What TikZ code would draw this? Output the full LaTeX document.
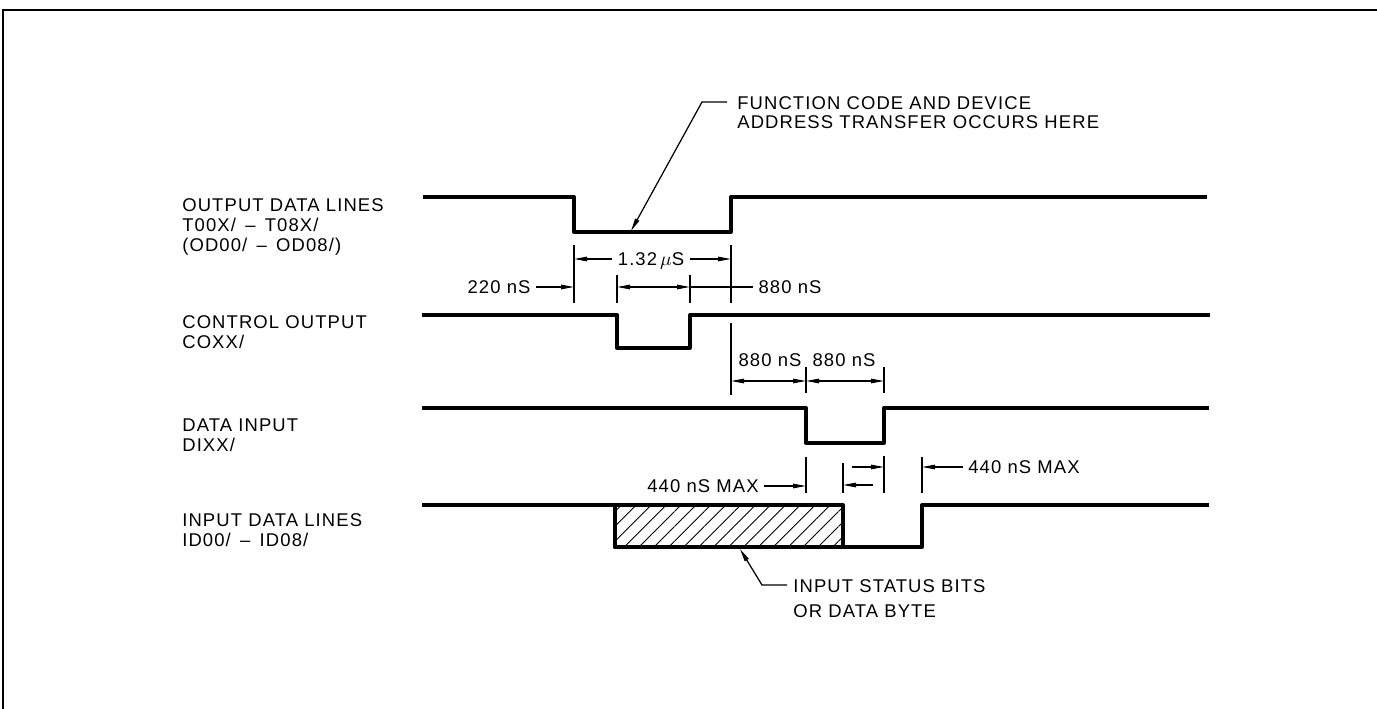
\documentclass[tikz,border=0pt]{standalone}
\usepackage{amsmath}
\usepackage{fontspec}
\setmainfont{Liberation Sans}[LetterSpace=6]
\usepackage{tikz}
\usetikzlibrary{arrows.meta,patterns.meta,positioning}

\begin{document}
\begin{tikzpicture}[x=0.02cm, y=-0.02cm, >={Triangle[length=0.26cm, width=0.09cm]},
		font=\fontsize{10.5}{11.4}\selectfont,
		sig/.style={line width=1.9pt, line join=round},
		ext/.style={line width=0.7pt},
		dim/.style={line width=0.7pt},
		tag/.style={inner sep=3pt, text height=7.5pt, text depth=0pt},
		note/.style={inner sep=0pt, anchor=north west, align=left}]
		\useasboundingbox (0,0) rectangle (1377,709);
		% ---- frame ----
		\draw[line width=1.3pt] (3,709) -- (3,10) -- (1377,10);
		% ---- edge positions ----
		\coordinate (odF) at (574,0);  \coordinate (odR) at (731,0);
		\coordinate (coF) at (617,0);  \coordinate (coR) at (690,0);
		\coordinate (diF) at (806,0);  \coordinate (diR) at (884,0);
		\coordinate (idE) at (843,0);  \coordinate (idR) at (922,0);
		% ---- signal names ----
		\node[note] (odName) at (182,198) {OUTPUT DATA LINES\\T00X/ \,--\, T08X/\\(OD00/ \,--\, OD08/)};
		\node[note] (coName) at (182,315) {CONTROL OUTPUT\\COXX/};
		\node[note] (diName) at (182,418) {DATA INPUT\\DIXX/};
		\node[note] (idName) at (182,513) {INPUT DATA LINES\\ID00/ \,--\, ID08/};
		% ---- waveforms ----
		\draw[sig] (423,197) -- (574,197) -- (574,232) -- (731,232) -- (731,197) -- (1207,197);
		\draw[sig] (422,315) -- (617,315) -- (617,348) -- (690,348) -- (690,315) -- (1210,315);
		\draw[sig] (422,408) -- (806,408) -- (806,443) -- (884,443) -- (884,408) -- (1209,408);
		\draw[sig] (422,505) -- (615,505) -- (615,547) -- (922,547) -- (922,505) -- (1209,505);
		\draw[sig, pattern={Lines[angle=45, distance=6pt, line width=0.5pt]}] (615,505) rectangle (843,547);
		% ---- extension lines ----
		\foreach \x/\ya/\yb in {574/245/303, 731/245/303, 617/275/303, 690/275/303, 731/323/395,
			806/367/393, 884/367/393, 806/457/493, 843/463/493, 884/456/493, 922/457/493}
			\draw[ext] (\x,\ya) -- (\x,\yb);
		% ---- 1.32 us ----
		\node[tag] (d132) at (651,259) {1.32\,$\mu$S};
		\draw[dim, ->] (d132.west) -- (d132.west -| odF);
		\draw[dim, ->] (d132.east) -- (d132.east -| odR);
		% ---- 220 nS / 880 nS ----
		\node[tag] (d220) at (499,287) {220 nS};
		\draw[dim, ->] (d220.east) -- (d220.east -| odF);
		\coordinate (coW) at (617,287);
		\draw[dim, <->] (coW) -- (coW -| coR);
		\node[tag] (d880a) at (790,287) {880 nS};
		\draw[dim] (d880a.west) -- (d880a.west -| coR);
		% ---- 880 nS, 880 nS ----
		\coordinate (rowC) at (731,381);
		\draw[dim, <->] (rowC) -- (rowC -| diF);
		\draw[dim, <->] (rowC -| diF) -- (rowC -| diR);
		\node[tag] (d880b) at (770,360) {880 nS};
		\node[tag] (d880c) at (844,360) {880 nS};
		% ---- 440 nS MAX ----
		\node[tag] (d440a) at (703,486) {440 nS MAX};
		\draw[dim, ->] (d440a.east) -- (d440a.east -| diF);
		\coordinate (pA) at (852,467);
		\draw[dim, ->] (pA) -- (pA -| diR);
		\coordinate (pB) at (873,485);
		\draw[dim, ->] (pB) -- (pB -| idE);
		\node[tag] (d440b) at (1024,467) {440 nS MAX};
		\draw[dim, ->] (d440b.west) -- (d440b.west -| idR);
		% ---- notes ----
		\node[note] (fcNote) at (737,96) {FUNCTION CODE AND DEVICE\\[-0.4pt]ADDRESS TRANSFER OCCURS HERE};
		\coordinate (fcKnee) at (702,102);
		\coordinate (fcTip) at (631,231);
		\draw[dim, ->, shorten <=0.2cm] (fcNote.west |- fcKnee) -- (fcKnee) -- (fcTip);
		\node[note] (isNote) at (793,579) {INPUT STATUS BITS\\[2.8pt]OR DATA BYTE};
		\coordinate (isKnee) at (762,585);
		\coordinate (isTip) at (740,549);
		\draw[dim, ->, shorten <=0.12cm] (isNote.west |- isKnee) -- (isKnee) -- (isTip);
	\end{tikzpicture}
\end{document}
